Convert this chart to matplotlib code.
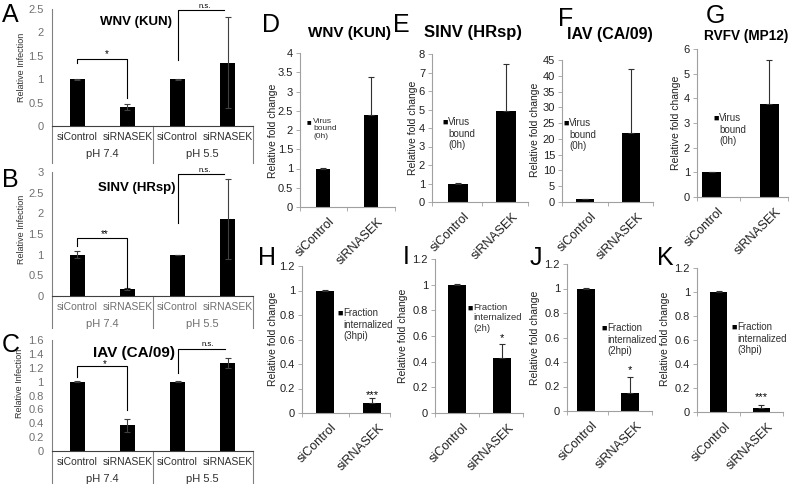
import matplotlib
matplotlib.use("Agg")
import matplotlib.pyplot as plt
import numpy as np
from matplotlib.ticker import MultipleLocator, FuncFormatter
from matplotlib.transforms import ScaledTranslation

# ---- data ----
categories = ["siControl", "siRNASEK"]
ph_groups = ["pH 7.4", "pH 5.5"]

# A-C: relative infection, order = siControl/siRNASEK at pH 7.4, then at pH 5.5
wnv_inf = [1.0, 0.41, 1.0, 1.35]
wnv_inf_err = [0.01, 0.07, 0.01, 0.97]
sinv_inf = [1.0, 0.17, 1.0, 1.86]
sinv_inf_err = [0.08, 0.02, 0.0, 0.96]
iav_inf = [1.0, 0.37, 1.0, 1.27]
iav_inf_err = [0.005, 0.09, 0.005, 0.07]

# D-G: virus bound (0h), relative fold change
wnv_bound = [1.0, 2.40]
wnv_bound_err = [0.01, 0.98]
sinv_bound = [1.0, 4.93]
sinv_bound_err = [0.05, 2.53]
iav_bound = [1.0, 21.8]
iav_bound_err = [0.1, 20.2]
rvfv_bound = [1.0, 3.77]
rvfv_bound_err = [0.02, 1.78]

# H-K: fraction internalized, relative fold change
wnv_int = [1.0, 0.08]
wnv_int_err = [0.005, 0.04]
sinv_int = [1.0, 0.43]
sinv_int_err = [0.005, 0.11]
iav_int = [1.0, 0.15]
iav_int_err = [0.005, 0.13]
rvfv_int = [1.0, 0.03]
rvfv_int_err = [0.005, 0.03]

plt.rcParams["font.family"] = ["Liberation Sans", "DejaVu Sans"]

W, H = 790, 484
fig = plt.figure(figsize=(W / 100, H / 100), dpi=100)


def px_axes(x0, y0, x1, y1):
    # axes placed by pixel box (left, top, right, bottom)
    return fig.add_axes([x0 / W, 1 - y1 / H, (x1 - x0) / W, (y1 - y0) / H])


def ptext(x, y, s, **kw):
    return fig.text(x / W, 1 - y / H, s, **kw)


fmt = FuncFormatter(lambda v, p: f"{v:g}")


def ph_panel(box, mean, err, ymax, step, table_bottom, cat_color):
    ax = px_axes(*box)
    x = np.arange(4)
    ax.bar(x, mean, width=0.3, color="black", yerr=err,
           error_kw=dict(ecolor="#404040", elinewidth=0.8, capsize=2, capthick=0.8))
    ax.set_xlim(-0.5, 3.5)
    ax.set_ylim(0, ymax)
    ax.yaxis.set_major_locator(MultipleLocator(step))
    ax.yaxis.set_major_formatter(fmt)
    ax.tick_params(axis="y", length=0, pad=6, labelsize=8, labelcolor="#707070")
    ax.set_xticks([])
    for s in ["top", "right"]:
        ax.spines[s].set_visible(False)
    ax.spines["left"].set_color("#808080")
    ax.spines["bottom"].set_color("#404040")
    ax.spines["left"].set_linewidth(0.8)
    ax.spines["bottom"].set_linewidth(0.8)
    # category table below the axis
    h = box[3] - box[1]
    tb = -(table_bottom - box[3]) / h
    tr = ax.get_xaxis_transform()
    for xs in [-0.5, 1.5, 3.5]:
        ax.plot([xs, xs], [0, tb], color="#808080", lw=0.8, transform=tr, clip_on=False)
    for i in range(4):
        ax.text(i, -11 / h, categories[i % 2], transform=tr, ha="center", va="center",
                fontsize=7.5, color=cat_color)
    for g in range(2):
        ax.text(0.5 + 2 * g, -28 / h, ph_groups[g], transform=tr, ha="center",
                va="center", fontsize=8, color=cat_color)
    return ax


def bracket(ax, x0, x1, top, left_bot, right_bot):
    xs, ys = [x0, x0, x1], [left_bot, top, top]
    if right_bot is not None:
        xs.append(x1)
        ys.append(right_bot)
    ax.plot(xs, ys, color="black", lw=0.8, clip_on=False)


# ---- A ----
axA = ph_panel((52, 9, 253, 126), wnv_inf, wnv_inf_err, 2.5, 0.5, 163, "#303030")
bracket(axA, 0, 1, 1.43, 1.35, 0.6)
bracket(axA, 2, 2.92, 2.48, 1.41, None)
ptext(107, 57, "*", fontsize=7, ha="center")
ptext(205, 8, "n.s.", fontsize=5.5, ha="center")
ptext(136, 25, "WNV (KUN)", fontsize=9.5, fontweight="bold", ha="center")
ptext(22, 67, "Relative Infection", fontsize=6.5, rotation=90, ha="center", va="center",
      color="#303030")

# ---- B ----
axB = ph_panel((52, 172, 253, 296), sinv_inf, sinv_inf_err, 3, 0.5, 328, "#707070")
bracket(axB, 0, 1, 1.40, 1.21, 0.19)
bracket(axB, 2, 2.92, 2.95, 1.76, None)
ptext(105, 237, "**", fontsize=7, ha="center")
ptext(205, 172, "n.s.", fontsize=5.5, ha="center")
ptext(137, 191, "SINV (HRsp)", fontsize=9.5, fontweight="bold", ha="center")
ptext(22, 229, "Relative Infection", fontsize=6.5, rotation=90, ha="center", va="center",
      color="#303030")

# ---- C ----
axC = ph_panel((52, 340, 253, 451), iav_inf, iav_inf_err, 1.6, 0.2, 490, "#303030")
bracket(axC, 0, 1, 1.22, 1.07, 0.59)
bracket(axC, 2, 2.95, 1.47, 1.12, None)
ptext(105, 367, "*", fontsize=7, ha="center")
ptext(208, 346, "n.s.", fontsize=5.5, ha="center")
ptext(134, 357, "IAV (CA/09)", fontsize=11, fontweight="bold", ha="center")
ptext(20, 383, "Relative Infection", fontsize=6.5, rotation=90, ha="center", va="center",
      color="#303030")


def fold_panel(box, xlim, ymax, step, mean, err, width):
    ax = px_axes(*box)
    ax.bar([0, 1], mean, width=width, color="black", yerr=[[0, 0], err],
           error_kw=dict(ecolor="#303030", elinewidth=0.8, capsize=2.5, capthick=0.8))
    ax.set_xlim(*xlim)
    ax.set_ylim(0, ymax)
    ax.yaxis.set_major_locator(MultipleLocator(step))
    ax.yaxis.set_major_formatter(fmt)
    ax.tick_params(axis="y", length=3, width=0.6, color="#a0a0a0", pad=2,
                   labelsize=8, labelcolor="#202020")
    ax.set_xticks([xlim[0], 0.5, xlim[1]])
    ax.set_xticklabels([])
    ax.tick_params(axis="x", length=3, width=0.6, color="#a0a0a0")
    for s in ["top", "right"]:
        ax.spines[s].set_visible(False)
    for s in ["left", "bottom"]:
        ax.spines[s].set_color("#a0a0a0")
        ax.spines[s].set_linewidth(0.8)
    tr = ax.get_xaxis_transform() + ScaledTranslation(0.10, -0.13, fig.dpi_scale_trans)
    for i, c in enumerate(categories):
        ax.text(i, 0, c, transform=tr, rotation=45, ha="right", va="center",
                rotation_mode="anchor", fontsize=9, color="#202020")
    return ax


def ylab(x, y):
    ptext(x, y, "Relative fold change", fontsize=7.5, rotation=90, ha="center",
          va="center", color="#202020")


def key(x, y, label, size, spacing=1.2):
    ptext(x, y, "\u25a0", fontsize=size - 0.5, ha="left", va="center")
    ptext(x + 6, y - 5, label, fontsize=size, ha="left", va="top", linespacing=spacing,
          color="#303030")


# ---- D-G: virus bound ----
fold_panel((300, 53, 395, 207), (-0.48, 1.5), 4, 0.5, wnv_bound, wnv_bound_err, 0.31)
fold_panel((432, 54, 528, 202), (-0.54, 1.46), 8, 1, sinv_bound, sinv_bound_err, 0.42)
fold_panel((562, 60, 653, 202), (-0.5, 1.48), 45, 5, iav_bound, iav_bound_err, 0.39)
fold_panel((697, 49, 788, 197), (-0.26, 1.33), 6, 1, rvfv_bound, rvfv_bound_err, 0.33)

ylab(273, 131)
ylab(413, 128)
ylab(535, 130)
ylab(676, 123)
key(307, 123, "Virus\nbound\n(0h)", 6.0, 1.05)
key(442, 122, "Virus\nbound\n(0h)", 7.0)
key(563, 123, "Virus\nbound\n(0h)", 7.0)
key(713, 118, "Virus\nbound\n(0h)", 7.0)

ptext(349, 37, "WNV (KUN)", fontsize=11, fontweight="bold", ha="center")
ptext(473, 37, "SINV (HRsp)", fontsize=12, fontweight="bold", ha="center")
ptext(610, 39, "IAV (CA/09)", fontsize=11.5, fontweight="bold", ha="center")
ptext(746, 40, "RVFV (MP12)", fontsize=9.8, fontweight="bold", ha="center")

# ---- H-K: fraction internalized ----
fold_panel((302, 266, 390, 413), (-0.49, 1.38), 1.2, 0.2, wnv_int, wnv_int_err, 0.38)
fold_panel((435, 259, 523, 413), (-0.49, 1.47), 1.2, 0.2, sinv_int, sinv_int_err, 0.40)
fold_panel((567, 264, 652, 411), (-0.43, 1.5), 1.2, 0.2, iav_int, iav_int_err, 0.39)
fold_panel((697, 268, 783, 412), (-0.52, 1.52), 1.2, 0.2, rvfv_int, rvfv_int_err, 0.40)

ylab(273, 339)
ylab(403, 336)
ylab(535, 338)
ylab(665, 339)
key(337, 313, "Fraction\ninternalized\n(3hpi)", 7.0)
key(467, 308, "Fraction\ninternalized\n(2h)", 6.8)
key(601, 328, "Fraction\ninternalized\n(2hpi)", 7.0)
key(731, 327, "Fraction\ninternalized\n(3hpi)", 7.0)

ptext(372, 398, "***", fontsize=8, ha="center")
ptext(502, 341, "*", fontsize=8, ha="center")
ptext(630, 373, "*", fontsize=8, ha="center")
ptext(761, 400, "***", fontsize=8, ha="center")

# ---- panel letters ----
letters = [("A", 2, 22), ("B", 2, 187), ("C", 2, 352), ("D", 262, 32), ("E", 393, 32),
           ("F", 558, 26), ("G", 706, 23), ("H", 258, 265), ("I", 403, 264),
           ("J", 530, 265), ("K", 657, 265)]
for s, x, y in letters:
    ptext(x, y, s, fontsize=18, ha="left", va="baseline")

fig.savefig("out.png", dpi=100)
